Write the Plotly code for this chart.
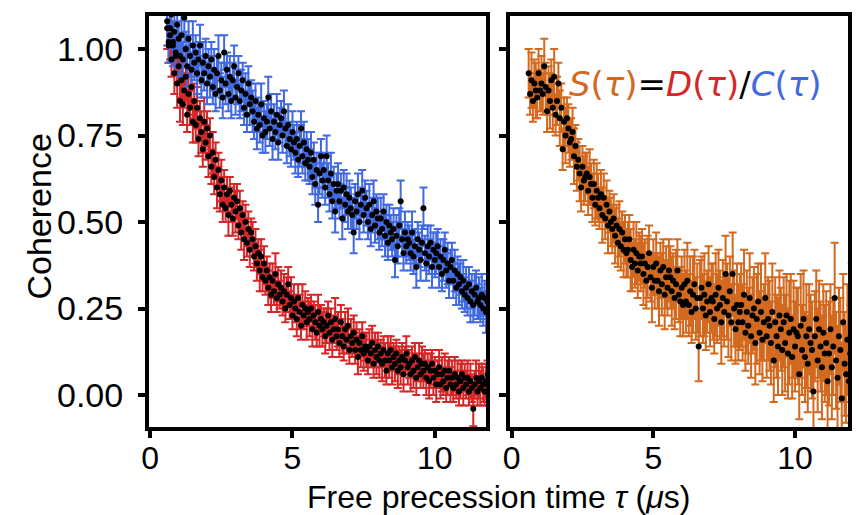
import plotly.graph_objects as go

# free precession time grid (µs), 0.05 µs step from 0.60 to 12.00
TAU = [round(0.60 + 0.05 * i, 2) for i in range(229)]

# D(tau) - red
D_VAL = [
    1.06, 1.01, 1.04, 0.97, 1.02, 0.93, 0.98, 0.90, 0.95, 0.85,
    0.91, 0.84, 0.88, 0.92, 0.81, 0.87, 0.83, 0.89, 0.79, 0.85,
    0.78, 0.83, 0.74, 0.80, 0.76, 0.71, 0.79, 0.73, 0.77, 0.69,
    0.75, 0.66, 0.70, 0.63, 0.68, 0.60, 0.65, 0.58, 0.62, 0.55,
    0.60, 0.54, 0.58, 0.52, 0.59, 0.55, 0.51, 0.57, 0.53, 0.56,
    0.49, 0.54, 0.47, 0.52, 0.45, 0.50, 0.44, 0.48, 0.42, 0.47,
    0.45, 0.40, 0.43, 0.38, 0.41, 0.36, 0.40, 0.34, 0.38, 0.33,
    0.36, 0.31, 0.34, 0.29, 0.33, 0.30, 0.35, 0.28, 0.32, 0.29,
    0.31, 0.27, 0.30, 0.25, 0.29, 0.32, 0.26, 0.28, 0.23, 0.27,
    0.25, 0.22, 0.28, 0.24, 0.20, 0.26, 0.23, 0.25, 0.21, 0.24,
    0.22, 0.25, 0.19, 0.23, 0.21, 0.18, 0.24, 0.20, 0.22, 0.19,
    0.21, 0.17, 0.20, 0.23, 0.18, 0.21, 0.16, 0.19, 0.22, 0.17,
    0.19, 0.15, 0.21, 0.17, 0.14, 0.19, 0.16, 0.20, 0.13, 0.17,
    0.15, 0.18, 0.13, 0.16, 0.11, 0.15, 0.13, 0.17, 0.12, 0.14,
    0.13, 0.10, 0.14, 0.12, 0.15, 0.09, 0.13, 0.11, 0.14, 0.10,
    0.12, 0.09, 0.13, 0.10, 0.07, 0.12, 0.10, 0.13, 0.08, 0.11,
    0.09, 0.12, 0.07, 0.10, 0.08, 0.11, 0.06, 0.10, 0.12, 0.08,
    0.09, 0.06, 0.10, 0.07, 0.11, 0.05, 0.08, 0.10, 0.06, 0.09,
    0.07, 0.09, 0.05, 0.08, 0.04, 0.07, 0.09, 0.05, 0.07, 0.03,
    0.06, 0.08, 0.03, 0.06, 0.04, 0.07, 0.02, 0.05, 0.07, 0.03,
    0.05, 0.02, 0.06, 0.03, 0.05, 0.01, 0.04, 0.06, 0.02, 0.05,
    0.03, 0.05, 0.01, 0.04, 0.02, -0.04, 0.03, 0.05, 0.01, 0.04,
    0.02, 0.05, 0.03, 0.01, 0.04, 0.06, 0.02, 0.04, 0.03,
]
D_ERR = [
    0.06, 0.05, 0.07, 0.05, 0.06, 0.06, 0.05, 0.07, 0.05, 0.06,
    0.05, 0.06, 0.05, 0.07, 0.05, 0.06, 0.05, 0.05, 0.06, 0.05,
    0.05, 0.06, 0.05, 0.05, 0.06, 0.05, 0.07, 0.05, 0.05, 0.06,
    0.05, 0.05, 0.06, 0.05, 0.05, 0.06, 0.05, 0.05, 0.06, 0.05,
    0.05, 0.04, 0.05, 0.06, 0.04, 0.05, 0.05, 0.04, 0.06, 0.05,
    0.04, 0.05, 0.05, 0.04, 0.06, 0.05, 0.04, 0.05, 0.05, 0.04,
    0.05, 0.04, 0.05, 0.05, 0.04, 0.06, 0.05, 0.04, 0.05, 0.04,
    0.04, 0.05, 0.04, 0.05, 0.05, 0.04, 0.06, 0.04, 0.05, 0.04,
    0.05, 0.04, 0.05, 0.04, 0.05, 0.05, 0.04, 0.06, 0.04, 0.05,
    0.04, 0.05, 0.04, 0.05, 0.04, 0.06, 0.04, 0.05, 0.05, 0.04,
    0.05, 0.04, 0.05, 0.04, 0.05, 0.04, 0.05, 0.06, 0.04, 0.05,
    0.04, 0.05, 0.05, 0.04, 0.05, 0.04, 0.05, 0.04, 0.06, 0.04,
    0.05, 0.04, 0.05, 0.05, 0.04, 0.05, 0.04, 0.05, 0.04, 0.05,
    0.04, 0.05, 0.04, 0.05, 0.05, 0.04, 0.05, 0.04, 0.05, 0.04,
    0.05, 0.04, 0.05, 0.04, 0.05, 0.04, 0.05, 0.05, 0.04, 0.05,
    0.04, 0.05, 0.04, 0.05, 0.04, 0.05, 0.05, 0.04, 0.05, 0.04,
    0.05, 0.04, 0.05, 0.04, 0.05, 0.04, 0.05, 0.04, 0.05, 0.05,
    0.04, 0.05, 0.04, 0.05, 0.04, 0.05, 0.04, 0.05, 0.04, 0.05,
    0.05, 0.04, 0.05, 0.04, 0.05, 0.05, 0.04, 0.05, 0.04, 0.05,
    0.04, 0.05, 0.04, 0.05, 0.04, 0.05, 0.04, 0.05, 0.04, 0.05,
    0.05, 0.04, 0.05, 0.04, 0.05, 0.04, 0.05, 0.04, 0.05, 0.04,
    0.04, 0.05, 0.04, 0.05, 0.04, 0.05, 0.04, 0.05, 0.04, 0.05,
    0.05, 0.04, 0.05, 0.04, 0.05, 0.04, 0.05, 0.04, 0.05,
]

# C(tau) - blue
C_VAL = [
    1.08, 1.02, 1.06, 1.10, 1.01, 1.05, 0.99, 1.07, 1.03, 0.98,
    1.04, 0.97, 1.09, 1.00, 0.95, 1.03, 0.98, 0.94, 1.01, 0.96,
    0.99, 0.93, 0.97, 1.01, 0.91, 0.96, 0.93, 0.98, 0.90, 0.95,
    0.92, 0.97, 0.89, 0.94, 0.87, 0.93, 0.98, 0.88, 0.91, 0.86,
    0.99, 0.90, 0.94, 0.87, 0.92, 0.85, 0.91, 0.95, 0.86, 0.89,
    0.93, 0.85, 0.88, 0.91, 0.83, 0.87, 0.81, 0.90, 0.84, 0.86,
    0.82, 0.79, 0.85, 0.77, 0.81, 0.78, 0.84, 0.75, 0.80, 0.76,
    0.79, 0.86, 0.77, 0.82, 0.74, 0.79, 0.76, 0.81, 0.73, 0.78,
    0.80, 0.75, 0.82, 0.77, 0.72, 0.78, 0.74, 0.71, 0.76, 0.73,
    0.70, 0.74, 0.68, 0.72, 0.77, 0.69, 0.73, 0.67, 0.71, 0.68,
    0.66, 0.70, 0.63, 0.68, 0.61, 0.65, 0.55, 0.64, 0.69, 0.62,
    0.65, 0.60, 0.69, 0.62, 0.58, 0.64, 0.56, 0.61, 0.53, 0.59,
    0.61, 0.56, 0.59, 0.51, 0.60, 0.55, 0.58, 0.53, 0.57, 0.54,
    0.52, 0.47, 0.56, 0.53, 0.58, 0.50, 0.55, 0.59, 0.52, 0.57,
    0.54, 0.50, 0.55, 0.48, 0.52, 0.56, 0.49, 0.53, 0.51, 0.47,
    0.51, 0.48, 0.53, 0.46, 0.50, 0.44, 0.49, 0.47, 0.45, 0.48,
    0.39, 0.46, 0.43, 0.49, 0.56, 0.45, 0.41, 0.47, 0.43, 0.45,
    0.44, 0.41, 0.47, 0.40, 0.43, 0.37, 0.45, 0.42, 0.39, 0.44,
    0.54, 0.41, 0.38, 0.43, 0.40, 0.44, 0.37, 0.42, 0.39, 0.41,
    0.43, 0.37, 0.40, 0.35, 0.39, 0.42, 0.36, 0.38, 0.33, 0.37,
    0.39, 0.33, 0.36, 0.31, 0.35, 0.32, 0.34, 0.30, 0.33, 0.29,
    0.31, 0.28, 0.32, 0.27, 0.30, 0.26, 0.29, 0.31, 0.27, 0.28,
    0.26, 0.29, 0.25, 0.28, 0.24, 0.27, 0.30, 0.25, 0.27,
]
C_ERR = [
    0.07, 0.06, 0.05, 0.07, 0.06, 0.05, 0.06, 0.07, 0.05, 0.06,
    0.06, 0.05, 0.07, 0.05, 0.06, 0.05, 0.06, 0.05, 0.07, 0.05,
    0.05, 0.06, 0.05, 0.06, 0.05, 0.06, 0.05, 0.05, 0.06, 0.05,
    0.06, 0.05, 0.05, 0.06, 0.05, 0.05, 0.06, 0.05, 0.05, 0.06,
    0.05, 0.06, 0.05, 0.05, 0.06, 0.05, 0.05, 0.06, 0.05, 0.05,
    0.05, 0.05, 0.06, 0.05, 0.05, 0.06, 0.05, 0.05, 0.06, 0.05,
    0.06, 0.05, 0.05, 0.06, 0.05, 0.05, 0.06, 0.05, 0.05, 0.06,
    0.05, 0.06, 0.05, 0.05, 0.06, 0.05, 0.05, 0.06, 0.05, 0.05,
    0.05, 0.05, 0.06, 0.05, 0.05, 0.06, 0.05, 0.05, 0.06, 0.05,
    0.06, 0.05, 0.05, 0.06, 0.05, 0.05, 0.06, 0.05, 0.05, 0.06,
    0.05, 0.06, 0.05, 0.05, 0.06, 0.05, 0.05, 0.06, 0.05, 0.05,
    0.05, 0.05, 0.06, 0.05, 0.05, 0.06, 0.05, 0.05, 0.06, 0.05,
    0.06, 0.05, 0.05, 0.06, 0.05, 0.05, 0.06, 0.05, 0.05, 0.06,
    0.05, 0.06, 0.05, 0.05, 0.06, 0.05, 0.05, 0.06, 0.05, 0.05,
    0.05, 0.05, 0.06, 0.05, 0.05, 0.06, 0.05, 0.05, 0.06, 0.05,
    0.06, 0.05, 0.05, 0.06, 0.05, 0.05, 0.06, 0.05, 0.05, 0.06,
    0.05, 0.06, 0.05, 0.05, 0.06, 0.05, 0.05, 0.06, 0.05, 0.05,
    0.05, 0.05, 0.06, 0.05, 0.05, 0.06, 0.05, 0.05, 0.06, 0.05,
    0.06, 0.05, 0.05, 0.06, 0.05, 0.05, 0.06, 0.05, 0.05, 0.06,
    0.05, 0.06, 0.05, 0.05, 0.06, 0.05, 0.05, 0.06, 0.05, 0.05,
    0.05, 0.05, 0.06, 0.05, 0.05, 0.06, 0.05, 0.05, 0.06, 0.05,
    0.06, 0.05, 0.05, 0.06, 0.05, 0.05, 0.06, 0.05, 0.05, 0.06,
    0.05, 0.06, 0.05, 0.05, 0.06, 0.05, 0.05, 0.06, 0.05,
]

# S(tau) - orange
S_VAL = [
    0.93, 0.87, 0.91, 0.85, 0.90, 0.88, 0.86, 0.93, 0.88, 0.90,
    0.87, 0.95, 0.89, 0.82, 0.88, 0.85, 0.91, 0.83, 0.92, 0.81,
    0.85, 0.90, 0.80, 0.83, 0.71, 0.79, 0.75, 0.80, 0.77, 0.73,
    0.74, 0.76, 0.69, 0.72, 0.66, 0.68, 0.64, 0.60, 0.66, 0.62,
    0.63, 0.64, 0.59, 0.63, 0.61, 0.57, 0.61, 0.55, 0.59, 0.57,
    0.54, 0.58, 0.52, 0.57, 0.51, 0.55, 0.49, 0.53, 0.50, 0.48,
    0.51, 0.46, 0.49, 0.44, 0.48, 0.43, 0.47, 0.42, 0.45, 0.41,
    0.42, 0.45, 0.39, 0.37, 0.42, 0.38, 0.41, 0.36, 0.40, 0.38,
    0.40, 0.35, 0.38, 0.33, 0.37, 0.41, 0.34, 0.31, 0.37, 0.33,
    0.38, 0.33, 0.30, 0.36, 0.32, 0.37, 0.29, 0.34, 0.31, 0.36,
    0.34, 0.30, 0.33, 0.28, 0.32, 0.36, 0.29, 0.27, 0.31, 0.26,
    0.32, 0.27, 0.33, 0.26, 0.30, 0.24, 0.29, 0.32, 0.25, 0.28,
    0.14, 0.28, 0.31, 0.25, 0.29, 0.23, 0.27, 0.32, 0.24, 0.28,
    0.27, 0.22, 0.29, 0.25, 0.31, 0.26, 0.21, 0.28, 0.24, 0.35,
    0.27, 0.23, 0.30, 0.21, 0.35, 0.25, 0.19, 0.26, 0.21, 0.24,
    0.26, 0.21, 0.29, 0.18, 0.24, 0.20, 0.28, 0.17, 0.23, 0.25,
    0.15, 0.22, 0.27, 0.18, 0.24, 0.16, 0.21, 0.28, 0.17, 0.22,
    0.20, 0.15, 0.24, 0.10, 0.21, 0.17, 0.14, 0.23, 0.19, 0.13,
    0.21, 0.15, 0.23, 0.12, 0.18, 0.22, 0.11, 0.19, 0.14, 0.18,
    0.17, 0.06, 0.20, 0.13, 0.22, 0.11, 0.17, 0.09, 0.19, 0.15,
    0.13, 0.01, 0.17, 0.22, 0.10, 0.19, 0.14, 0.08, 0.18, 0.12,
    0.15, 0.04, 0.12, 0.19, 0.08, 0.14, 0.28, 0.10, 0.05, 0.17,
    0.13, -0.01, 0.21, 0.09, 0.06, 0.16, 0.04, 0.12, 0.23,
]
S_ERR = [
    0.07, 0.06, 0.08, 0.06, 0.07, 0.08, 0.06, 0.07, 0.06, 0.08,
    0.06, 0.08, 0.07, 0.06, 0.07, 0.08, 0.06, 0.07, 0.08, 0.06,
    0.07, 0.06, 0.08, 0.07, 0.06, 0.07, 0.08, 0.06, 0.07, 0.07,
    0.06, 0.07, 0.08, 0.06, 0.07, 0.06, 0.08, 0.07, 0.06, 0.07,
    0.07, 0.06, 0.07, 0.08, 0.06, 0.07, 0.07, 0.06, 0.08, 0.07,
    0.06, 0.07, 0.08, 0.07, 0.06, 0.07, 0.08, 0.06, 0.07, 0.07,
    0.07, 0.08, 0.06, 0.07, 0.08, 0.07, 0.06, 0.08, 0.07, 0.07,
    0.08, 0.07, 0.09, 0.07, 0.08, 0.07, 0.09, 0.08, 0.07, 0.08,
    0.08, 0.09, 0.07, 0.08, 0.09, 0.08, 0.07, 0.10, 0.08, 0.08,
    0.09, 0.08, 0.10, 0.08, 0.09, 0.08, 0.10, 0.09, 0.08, 0.09,
    0.09, 0.10, 0.08, 0.09, 0.10, 0.09, 0.08, 0.10, 0.09, 0.09,
    0.10, 0.09, 0.11, 0.09, 0.10, 0.09, 0.11, 0.10, 0.09, 0.10,
    0.10, 0.11, 0.09, 0.10, 0.12, 0.10, 0.09, 0.11, 0.10, 0.10,
    0.11, 0.10, 0.12, 0.10, 0.11, 0.10, 0.12, 0.11, 0.10, 0.11,
    0.11, 0.12, 0.10, 0.11, 0.12, 0.11, 0.10, 0.12, 0.11, 0.11,
    0.12, 0.11, 0.13, 0.11, 0.12, 0.11, 0.13, 0.12, 0.11, 0.12,
    0.12, 0.13, 0.11, 0.12, 0.14, 0.12, 0.11, 0.13, 0.12, 0.12,
    0.13, 0.12, 0.14, 0.12, 0.13, 0.12, 0.14, 0.13, 0.12, 0.13,
    0.13, 0.14, 0.12, 0.13, 0.15, 0.13, 0.12, 0.14, 0.13, 0.13,
    0.14, 0.13, 0.15, 0.13, 0.14, 0.13, 0.15, 0.14, 0.13, 0.14,
    0.14, 0.15, 0.13, 0.14, 0.15, 0.14, 0.13, 0.15, 0.14, 0.14,
    0.15, 0.14, 0.15, 0.13, 0.15, 0.14, 0.16, 0.14, 0.15, 0.14,
    0.15, 0.16, 0.14, 0.15, 0.14, 0.16, 0.15, 0.14, 0.15,
]

for arr in (D_VAL, D_ERR, C_VAL, C_ERR, S_VAL, S_ERR):
    assert len(arr) == len(TAU), len(arr)

RED = "#d62728"
BLUE = "#4169e1"
ORANGE = "#d2691e"
FONT = "Liberation Sans, Arial, sans-serif"

fig = go.Figure()


def add_series(xa, ya, yv, ye, color):
    fig.add_trace(go.Scatter(
        x=TAU, y=yv, xaxis=xa, yaxis=ya, mode="markers",
        marker=dict(size=1, color="rgba(0,0,0,0)"),
        error_y=dict(type="data", array=ye, visible=True, color=color,
                     thickness=2, width=4),
        showlegend=False, hoverinfo="skip", cliponaxis=True,
    ))


def add_dots(xa, ya, yv):
    fig.add_trace(go.Scatter(
        x=TAU, y=yv, xaxis=xa, yaxis=ya, mode="markers",
        marker=dict(size=6, color="black"),
        showlegend=False, cliponaxis=True,
    ))


add_series("x", "y", D_VAL, D_ERR, RED)
add_series("x", "y", C_VAL, C_ERR, BLUE)
add_dots("x", "y", D_VAL)
add_dots("x", "y", C_VAL)
add_series("x2", "y2", S_VAL, S_ERR, ORANGE)
add_dots("x2", "y2", S_VAL)

axis_common = dict(
    showline=True, linewidth=4, linecolor="black", mirror=True,
    ticks="outside", ticklen=7, tickwidth=4, tickcolor="black",
    showgrid=False, zeroline=False,
)
yfont = dict(family=FONT, size=34, color="black")
xfont = dict(family=FONT, size=32, color="black")

fig.update_layout(
    width=859, height=515,
    margin=dict(l=149, r=7, t=16, b=88),
    paper_bgcolor="white", plot_bgcolor="white",
    showlegend=False,
    xaxis=dict(domain=[0, 0.4822], range=[-0.04, 11.8], tickvals=[0, 5, 10],
               ticklabelstandoff=-7, tickfont=xfont, anchor="y", **axis_common),
    yaxis=dict(domain=[0, 1], range=[-0.0925, 1.0954],
               tickvals=[0, 0.25, 0.5, 0.75, 1.0], tickformat=".2f",
               ticklabelstandoff=8, tickfont=yfont, anchor="x", **axis_common),
    xaxis2=dict(domain=[0.5164, 1], range=[-0.06, 11.87], tickvals=[0, 5, 10],
                ticklabelstandoff=-7, tickfont=xfont, anchor="y2", **axis_common),
    yaxis2=dict(domain=[0, 1], range=[-0.0925, 1.0954],
                tickvals=[0, 0.25, 0.5, 0.75, 1.0], showticklabels=False,
                tickfont=yfont, anchor="x2", **axis_common),
)

fig.add_annotation(
    text="Free precession time <i>τ</i> (<i>μ</i>s)",
    xref="paper", yref="paper", x=0.5007, y=-0.1703,
    xanchor="center", yanchor="middle", showarrow=False,
    font=dict(family=FONT, size=32, color="black"),
)
fig.add_annotation(
    text="Coherence", textangle=-90,
    xref="paper", yref="paper", x=-0.158, y=0.511,
    xanchor="center", yanchor="middle", showarrow=False,
    font=dict(family=FONT, size=34, color="black"),
)
formula = (
    f"<span style='color:{ORANGE}'><i>S</i>(<i>τ</i>)</span>"
    f"<span style='color:black'>=</span>"
    f"<span style='color:{RED}'><i>D</i>(<i>τ</i>)</span>"
    f"<span style='color:black'>/</span>"
    f"<span style='color:{BLUE}'><i>C</i>(<i>τ</i>)</span>"
)
fig.add_annotation(
    text=formula, xref="paper", yref="paper", x=0.7824, y=0.8345,
    xanchor="center", yanchor="middle", showarrow=False,
    font=dict(family="DejaVu Sans", size=34, color="black"),
)

fig.write_html("out.html")
